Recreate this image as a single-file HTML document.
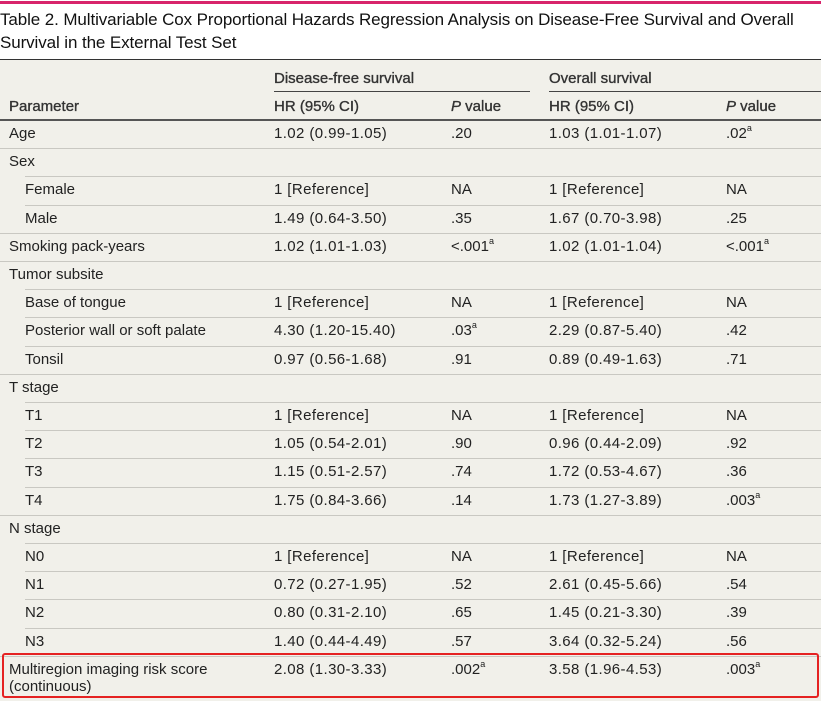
<!DOCTYPE html>
<html><head><meta charset="utf-8"><style>
body{margin:0;width:821px;height:700px;background:#fff;font-family:"Liberation Sans",sans-serif;color:#222;position:relative;overflow:hidden}
.a{position:absolute;white-space:nowrap}
#tbl{position:absolute;left:0;top:59px;width:821px;height:641px;background:#f1f0ea;border-top:1.5px solid #333}
.t{font-size:15px;line-height:18px}
sup{font-size:9px;vertical-align:top;line-height:0;position:relative;top:3px}
.h{color:#333;-webkit-text-stroke:0.35px #333}
</style></head><body>
<div class="a" style="left:0;top:1px;width:821px;height:3px;background:#d8246b"></div>
<div class="a" style="left:0;top:8px;font-size:17px;line-height:23px;color:#111;letter-spacing:-0.1px">Table 2. Multivariable Cox Proportional Hazards Regression Analysis on Disease-Free Survival and Overall<br>Survival in the External Test Set</div>
<div id="tbl"></div>
<div class="a" style="left:2px;top:653px;width:813px;height:41px;border:2px solid #e52222;border-radius:3px"></div>
<script>
const tbl=document.getElementById('tbl');
function add(x,y,html,name,extra,cls){const d=document.createElement('div');d.className='a t'+(cls?' '+cls:'');d.style.left=x+'px';d.style.top=(y-59)+'px';d.innerHTML=html;if(extra)d.style.cssText+=extra;


tbl.appendChild(d);return d;}
function line(x,y,w,c,h,name){const d=document.createElement('div');d.className='a';d.style.cssText=`left:${x}px;top:${y-59}px;width:${w}px;height:${h||1}px;background:${c}`;


tbl.appendChild(d);}
add(274,69,'Disease-free survival','dfs-header','', 'h');
add(549,69,'Overall survival','os-header','', 'h');
line(274,90,256,'#444',1,'dfs-header-rule');
line(549,90,272,'#444',1,'os-header-rule');
add(9,97,'Parameter','parameter-header','', 'h');
add(274,97,'HR (95% CI)','dfs-hr-header','', 'h');
add(451,97,'<i>P</i> value','dfs-p-header','', 'h');
add(549,97,'HR (95% CI)','os-hr-header','', 'h');
add(726,97,'<i>P</i> value','os-p-header','', 'h');
line(0,118,821,'#555',1.5,'header-bottom-rule');
const A='<sup>a</sup>';
const rows=[
[0,'Age','1.02 (0.99-1.05)','.20','1.03 (1.01-1.07)','.02'+A],
[0,'Sex','','','',''],
[1,'Female','1 [Reference]','NA','1 [Reference]','NA'],
[1,'Male','1.49 (0.64-3.50)','.35','1.67 (0.70-3.98)','.25'],
[0,'Smoking pack-years','1.02 (1.01-1.03)','&lt;.001'+A,'1.02 (1.01-1.04)','&lt;.001'+A],
[0,'Tumor subsite','','','',''],
[1,'Base of tongue','1 [Reference]','NA','1 [Reference]','NA'],
[1,'Posterior wall or soft palate','4.30 (1.20-15.40)','.03'+A,'2.29 (0.87-5.40)','.42'],
[1,'Tonsil','0.97 (0.56-1.68)','.91','0.89 (0.49-1.63)','.71'],
[0,'T stage','','','',''],
[1,'T1','1 [Reference]','NA','1 [Reference]','NA'],
[1,'T2','1.05 (0.54-2.01)','.90','0.96 (0.44-2.09)','.92'],
[1,'T3','1.15 (0.51-2.57)','.74','1.72 (0.53-4.67)','.36'],
[1,'T4','1.75 (0.84-3.66)','.14','1.73 (1.27-3.89)','.003'+A],
[0,'N stage','','','',''],
[1,'N0','1 [Reference]','NA','1 [Reference]','NA'],
[1,'N1','0.72 (0.27-1.95)','.52','2.61 (0.45-5.66)','.54'],
[1,'N2','0.80 (0.31-2.10)','.65','1.45 (0.21-3.30)','.39'],
[1,'N3','1.40 (0.44-4.49)','.57','3.64 (0.32-5.24)','.56'],
[0,'Multiregion imaging risk score<br>(continuous)','2.08 (1.30-3.33)','.002'+A,'3.58 (1.96-4.53)','.003'+A]
];
const pitch=28.2;
rows.forEach((r,i)=>{
 const top=119+i*pitch, ty=top+5;
 const nm='row-'+r[1].split('<')[0].toLowerCase().replace(/[^a-z0-9]+/g,'-').replace(/-$/,'');
 add(r[0]?25:9,ty,r[1],nm+'-label',i==19?'line-height:17px':'');
 if(r[2])add(274,ty,r[2],nm+'-dfs-hr','letter-spacing:0.4px');
 if(r[3])add(451,ty,r[3],nm+'-dfs-p');
 if(r[4])add(549,ty,r[4],nm+'-os-hr','letter-spacing:0.4px');
 if(r[5])add(726,ty,r[5],nm+'-os-p');
 if(i<19){const nx=rows[i+1];line(nx[0]?25:0,top+pitch,nx[0]?796:821,'#c9c8c2',1,nm+'-rule');}
});
</script>
</body></html>
